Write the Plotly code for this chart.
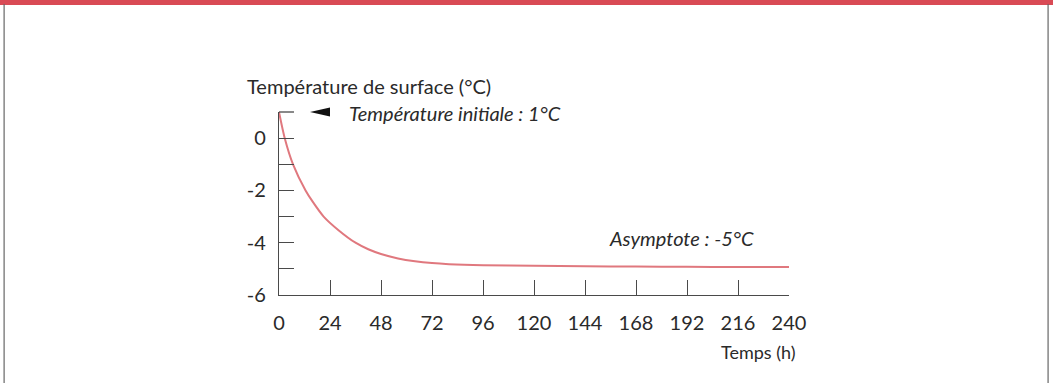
import plotly.graph_objects as go

# Data
temps_h = [0, 2.7, 6.6, 12.5, 16, 21, 28, 36, 42, 48, 56, 64, 72, 80, 96, 120, 144, 168, 192, 216, 240]
temperature_c = [1.0, 0.0, -1.0, -2.0, -2.45, -3.0, -3.52, -4.0, -4.25, -4.43, -4.6, -4.71, -4.78, -4.82, -4.86, -4.88, -4.9, -4.91, -4.92, -4.93, -4.93]

x_ticks = [0, 24, 48, 72, 96, 120, 144, 168, 192, 216, 240]
y_ticks = [-6, -5, -4, -3, -2, -1, 0, 1]
y_ticklabels = ["-6", "", "-4", "", "-2", "", "0", ""]

y_title = "Température de surface (°C)"
x_title = "Temps (h)"
note_initial = "Température initiale : 1°C"
note_asymptote = "Asymptote : -5°C"

FONT = "Lato"
TXT = "#2a2a2a"
AXC = "#4a4a4a"

fig = go.Figure()
fig.add_trace(go.Scatter(
    x=temps_h, y=temperature_c, mode="lines",
    line=dict(color="#e0787e", width=2, shape="spline", smoothing=0.8),
    hoverinfo="skip", showlegend=False, cliponaxis=False,
))

fig.update_layout(
    width=1053, height=383,
    margin=dict(l=279, r=264, t=112, b=88),
    paper_bgcolor="white", plot_bgcolor="white",
    font=dict(family=FONT, size=20, color=TXT),
    showlegend=False,
    xaxis=dict(
        range=[0, 240], tickvals=x_ticks, ticktext=[str(v) for v in x_ticks],
        ticks="inside", ticklen=15, tickcolor=AXC, tickwidth=1.3,
        showline=True, linecolor=AXC, linewidth=1.3,
        showgrid=False, zeroline=False, ticklabelstandoff=10,
        tickfont=dict(size=20, color=TXT),
    ),
    yaxis=dict(
        range=[-6, 1], tickvals=y_ticks, ticktext=y_ticklabels,
        ticks="inside", ticklen=15, tickcolor=AXC, tickwidth=1.3,
        showline=True, linecolor=AXC, linewidth=1.3,
        showgrid=False, zeroline=False, ticklabelstandoff=8,
        tickfont=dict(size=20, color=TXT),
    ),
)

# top tick of the y axis (at the range edge)
fig.add_shape(type="line", xref="paper", yref="paper", x0=0, x1=0.0294, y0=1, y1=1,
              line=dict(color=AXC, width=1.3))

# axis titles as annotations
fig.add_annotation(xref="paper", yref="paper", x=-0.066, y=1.0, yshift=26,
                   text=y_title, showarrow=False, xanchor="left", yanchor="middle",
                   font=dict(size=20, color=TXT))
fig.add_annotation(xref="paper", yref="paper", x=1.018, y=0, yshift=-57,
                   text=x_title, showarrow=False, xanchor="right", yanchor="middle",
                   font=dict(size=18, color=TXT))

# notes
fig.add_shape(type="path", xref="paper", yref="paper",
              path="M 0.0608 1.0 L 0.1 1.024 L 0.1 0.976 Z",
              fillcolor="#111", line=dict(width=0))
fig.add_annotation(xref="x", yref="y", x=32, y=1, yshift=-1,
                   text="<i>" + note_initial + "</i>", showarrow=False,
                   xanchor="left", yanchor="middle", font=dict(size=20, color=TXT))
fig.add_annotation(xref="x", yref="y", x=154.4, y=-4, yshift=5,
                   text="<i>" + note_asymptote + "</i>", showarrow=False,
                   xanchor="left", yanchor="middle", font=dict(size=20, color=TXT))

# page frame: red top band and thin side borders
fig.add_shape(type="rect", xref="paper", yref="paper", x0=-0.6, x1=1.6, y0=1.585, y1=1.62,
              line=dict(width=0), fillcolor="#d94a55")
fig.add_shape(type="line", xref="paper", yref="paper", x0=-0.539, x1=-0.539, y0=-0.6, y1=1.59,
              line=dict(color="#666", width=1.2))
fig.add_shape(type="line", xref="paper", yref="paper", x0=1.508, x1=1.508, y0=-0.6, y1=1.59,
              line=dict(color="#666", width=1.2))

fig.write_html("out.html", config={"displayModeBar": False},
               post_script="document.body.style.margin='0px';")
